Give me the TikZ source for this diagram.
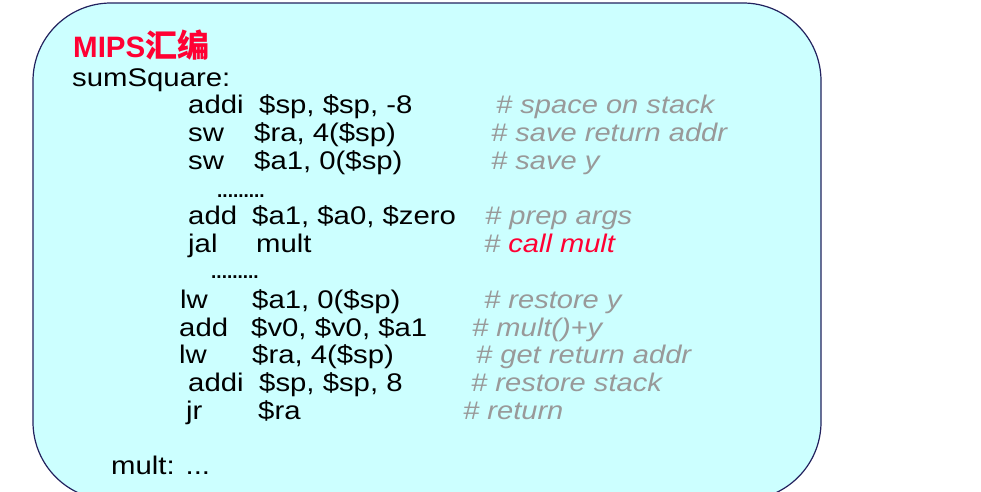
\documentclass[tikz,border=0pt]{standalone}
\usepackage{fontspec}
\setmainfont{Liberation Sans}
\newfontfamily\codefont{Liberation Sans}[FakeStretch=1.15]
\newfontfamily\cmtfont{Liberation Sans}[FakeStretch=1.14]
\newfontfamily\cjkfont{Noto Sans CJK SC}
\definecolor{boxfill}{HTML}{CCFFFF}
\definecolor{boxline}{HTML}{22225E}
\definecolor{cmtgray}{HTML}{999999}
\definecolor{mipsred}{HTML}{FF0033}
\begin{document}
\begin{tikzpicture}[x=1pt,y=-1pt,
	code/.style={anchor=base west,inner sep=0pt,font=\codefont\fontsize{25.5}{30}\selectfont},
	cmt/.style={anchor=base west,inner sep=0pt,text=cmtgray,font=\cmtfont\itshape\fontsize{25.5}{30}\selectfont},
	dotrow/.style={anchor=base west,inner sep=0pt,font=\bfseries\fontsize{19}{22}\selectfont}]
		\useasboundingbox (0,0) rectangle (981,491);
		\clip (0,0) rectangle (981,491);
		\draw[draw=boxline,fill=boxfill,line width=1.2pt,rounded corners=78pt] (33,3) rectangle (821,500);
		
		\node[anchor=base west,inner sep=0pt,text=mipsred,font=\bfseries\fontsize{29.5}{34}\selectfont] (title) at (73,57) {MIPS{\cjkfont\fontsize{32}{36}\selectfont 汇编}};
		\node[code] (label) at (72,86) {sumSquare:};
		
		\node[code] (op1) at (188,113.5) {addi};
		\node[code] (arg1) at (259,113.5) {\$sp, \$sp, -8};
		\node[cmt] (cm1) at (496,113.5) {\# space on stack};
		\node[code] (op2) at (188,141.5) {sw};
		\node[code] (arg2) at (254,141.5) {\$ra, 4(\$sp)};
		\node[cmt] (cm2) at (491,141.5) {\# save return addr};
		\node[code] (op3) at (188,169) {sw};
		\node[code] (arg3) at (254,169) {\$a1, 0(\$sp)};
		\node[cmt] (cm3) at (491,169) {\# save y};
		\node[dotrow] (skip1) at (217,197) {.........};
		\node[code] (op4) at (188,224.5) {add};
		\node[code] (arg4) at (252,224.5) {\$a1, \$a0, \$zero};
		\node[cmt] (cm4) at (485,224.5) {\# prep args};
		\node[code] (op5) at (188,252.5) {jal};
		\node[code] (arg5) at (256,252.5) {mult};
		\node[cmt] (cm5) at (484,252.5) {\# \textcolor{mipsred}{call mult}};
		\node[dotrow] (skip2) at (211,278) {.........};
		
		\node[code] (op6) at (180,308) {lw};
		\node[code] (arg6) at (252,308) {\$a1, 0(\$sp)};
		\node[cmt] (cm6) at (484,308) {\# restore y};
		\node[code] (op7) at (179,336) {add};
		\node[code] (arg7) at (251,336) {\$v0, \$v0, \$a1};
		\node[cmt] (cm7) at (472,336) {\# mult()+y};
		\node[code] (op8) at (179,363.5) {lw};
		\node[code] (arg8) at (252,363.5) {\$ra, 4(\$sp)};
		\node[cmt] (cm8) at (476,363.5) {\# get return addr};
		\node[code] (op9) at (188,391) {addi};
		\node[code] (arg9) at (259,391) {\$sp, \$sp, 8};
		\node[cmt] (cm9) at (471,391) {\# restore stack};
		\node[code] (op10) at (186,419) {jr};
		\node[code] (arg10) at (258,419) {\$ra};
		\node[cmt] (cm10) at (463,419) {\# return};
		
		\node[code] (next) at (111,474) {mult: ...};
\end{tikzpicture}
\end{document}
